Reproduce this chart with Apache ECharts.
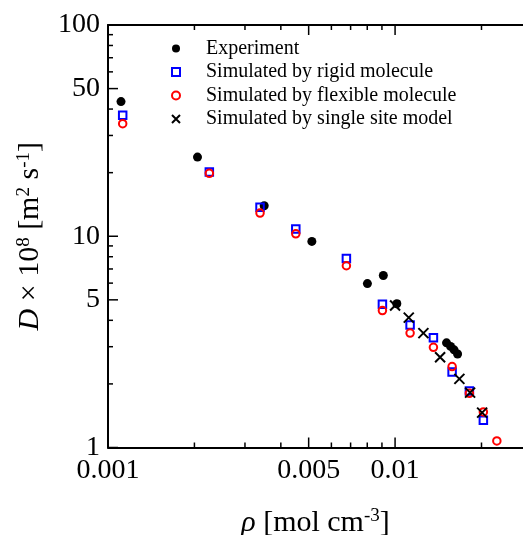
<!DOCTYPE html>
<html>
<head>
<meta charset="utf-8">
<script src="https://cdn.jsdelivr.net/npm/echarts@6/dist/echarts.min.js"></script>
<style>html,body{margin:0;padding:0;background:#fff}#c{width:523px;height:535px}</style>
</head>
<body>
<div id="c"></div>
<script>
// ---- data (rho [mol cm^-3], D x 1e8 [m^2 s^-1]) ----
const expX = [0.00111, 0.00205, 0.00350, 0.00513, 0.00801, 0.00910, 0.01014, 0.01511, 0.01561, 0.01605, 0.01651];
const expY = [43.4, 23.7, 13.95, 9.45, 5.97, 6.52, 4.79, 3.13, 3.01, 2.90, 2.77];
const rigidX = [0.001125, 0.002254, 0.003385, 0.00451, 0.006767, 0.009034, 0.01128, 0.0136, 0.0158, 0.01815, 0.0203];
const rigidY = [37.4, 20.15, 13.7, 10.82, 7.85, 4.77, 3.80, 3.31, 2.28, 1.853, 1.346];
const flexX = [0.001125, 0.002254, 0.003385, 0.00451, 0.006767, 0.009034, 0.01128, 0.0136, 0.0158, 0.01815, 0.0203, 0.02262];
const flexY = [34.1, 19.85, 12.88, 10.27, 7.25, 4.45, 3.48, 2.98, 2.415, 1.806, 1.473, 1.074];
const singleX = [0.0100, 0.01116, 0.01255, 0.01435, 0.01675, 0.01825, 0.0201];
const singleY = [4.70, 4.12, 3.48, 2.676, 2.112, 1.818, 1.462];

const seriesNames = ['Experiment', 'Simulated by rigid molecule', 'Simulated by flexible molecule', 'Simulated by single site model'];

// ---- axis ranges and ticks ----
const xMin = 0.001, xMax = 0.0279;
const yMin = 1, yMax = 100;
const xLabelVals = [0.001, 0.005, 0.01];
const xMajorTicks = [0.001, 0.005, 0.01];
const xMinorTicks = [0.002, 0.003, 0.004, 0.006, 0.007, 0.008, 0.009, 0.02];
const yLabelVals = [1, 5, 10, 50, 100];
const yMajorTicks = [1, 5, 10, 50, 100];
const yMinorTicks = [2, 3, 4, 6, 7, 8, 9, 20, 30, 40, 60, 70, 80, 90];

const FONT = 'Liberation Serif';
const zip = (a, b) => a.map((v, i) => [v, b[i]]);
const fmt = v => String(+(+v).toPrecision(3));

const supRich = {
  i: {fontFamily: FONT, fontSize: 30, fontStyle: 'italic', color: '#000', lineHeight: 33},
  s: {fontFamily: FONT, fontSize: 19, color: '#000', lineHeight: 17, verticalAlign: 'top'}
};

// tick marks drawn through the axes' own scales (inward ticks on all four sides)
const tickData = []
  .concat(xMajorTicks.map(v => [v, yMin, 1, 0]))
  .concat(xMinorTicks.map(v => [v, yMin, 0, 0]))
  .concat(yMajorTicks.map(v => [xMin, v, 1, 1]))
  .concat(yMinorTicks.map(v => [xMin, v, 0, 1]));
function renderTick(params, api) {
  const major = api.value(2) === 1, kind = api.value(3);
  const len = major ? 10 : 5;
  const st = {stroke: '#000', lineWidth: 1.5};
  if (kind === 0) {
    const v = api.value(0);
    const pb = api.coord([v, yMin]), pt = api.coord([v, yMax]);
    return {type: 'group', children: [
      {type: 'line', shape: {x1: pb[0], y1: pb[1], x2: pb[0], y2: pb[1] - len}, style: st},
      {type: 'line', shape: {x1: pt[0], y1: pt[1], x2: pt[0], y2: pt[1] + len}, style: st}
    ]};
  }
  const v = api.value(1);
  const pl = api.coord([xMin, v]);
  return {type: 'line', shape: {x1: pl[0], y1: pl[1], x2: pl[0] + len, y2: pl[1]}, style: st};
}

const xMain = {
  type: 'log', min: xMin, max: xMax, position: 'bottom',
  splitLine: {show: false}, minorTick: {show: false},
  axisLine: {show: true, lineStyle: {color: '#000', width: 2}},
  axisTick: {show: false},
  axisLabel: {show: true, customValues: xLabelVals, formatter: fmt, margin: 9,
    fontFamily: FONT, fontSize: 28, color: '#000'},
  name: '{i|ρ} [mol cm{s|-3}]', nameLocation: 'middle', nameGap: 59,
  nameTextStyle: {fontFamily: FONT, fontSize: 30, color: '#000', lineHeight: 33, rich: supRich}
};
const xTop = {
  type: 'log', min: xMin, max: xMax, position: 'top',
  splitLine: {show: false}, minorTick: {show: false},
  axisLine: {show: true, lineStyle: {color: '#000', width: 2}},
  axisTick: {show: false}, axisLabel: {show: false}
};
const yMain = {
  type: 'log', min: yMin, max: yMax, position: 'left',
  splitLine: {show: false}, minorTick: {show: false},
  axisLine: {show: true, lineStyle: {color: '#000', width: 2}},
  axisTick: {show: false},
  axisLabel: {show: true, customValues: yLabelVals, formatter: fmt, margin: 8,
    fontFamily: FONT, fontSize: 28, color: '#000'},
  name: '{i|D} × 10{s|8} [m{s|2} s{s|-1}]', nameLocation: 'middle', nameRotate: 90, nameGap: 56,
  nameTextStyle: {fontFamily: FONT, fontSize: 30, color: '#000', lineHeight: 33, rich: supRich}
};

const chart = echarts.init(document.getElementById('c'));
chart.setOption({
  animation: false,
  backgroundColor: '#fff',
  grid: {left: 108, top: 25, bottom: 87.5, right: 0, outerBoundsMode: 'none'},
  xAxis: [xMain, xTop],
  yAxis: [yMain],
  legend: {
    orient: 'vertical', left: 171, top: 38.5, padding: 0,
    itemWidth: 8, itemHeight: 8, itemGap: 3.5,
    data: seriesNames,
    textStyle: {fontFamily: FONT, fontSize: 20, color: '#000', lineHeight: 20, padding: [0, 0, 0, 21]}
  },
  series: [
    {type: 'custom', name: 'ticks', xAxisIndex: 0, yAxisIndex: 0, data: tickData,
     encode: {x: 0, y: 1}, renderItem: renderTick, silent: true, clip: false, z: 1},
    {name: seriesNames[0], type: 'scatter', data: zip(expX, expY), symbol: 'circle', symbolSize: 9,
     itemStyle: {color: '#000', opacity: 1}, z: 2},
    {name: seriesNames[1], type: 'scatter', data: zip(rigidX, rigidY), symbol: 'rect', symbolSize: 7.5,
     itemStyle: {color: 'rgba(0,0,0,0)', borderColor: '#0000ff', borderWidth: 2, opacity: 1}, z: 2},
    {name: seriesNames[2], type: 'scatter', data: zip(flexX, flexY), symbol: 'circle', symbolSize: 7.5,
     itemStyle: {color: 'rgba(0,0,0,0)', borderColor: '#ff0000', borderWidth: 2, opacity: 1}, z: 2},
    {name: seriesNames[3], type: 'scatter', data: zip(singleX, singleY), symbol: 'path://M0,0L10,10M0,10L10,0', symbolSize: 10,
     itemStyle: {color: 'rgba(0,0,0,0)', borderColor: '#000', borderWidth: 2, opacity: 1}, z: 2}
  ]
});
</script>
</body>
</html>
